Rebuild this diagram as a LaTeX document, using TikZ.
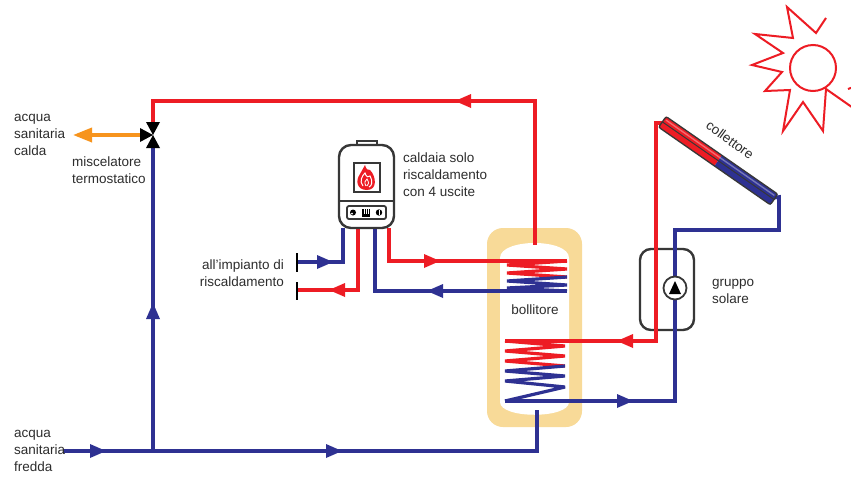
\documentclass[tikz,border=0pt]{standalone}
\usepackage{fontspec}
\setmainfont{Liberation Sans}
\usetikzlibrary{arrows.meta}

\definecolor{hot}{RGB}{237,28,36}
\definecolor{cold}{RGB}{46,49,146}
\definecolor{mixed}{RGB}{247,148,29}
\definecolor{insul}{RGB}{248,218,152}
\definecolor{casing}{RGB}{55,55,55}
\definecolor{txt}{RGB}{45,45,45}

\tikzset{
  pipe/.style={line width=3.6pt, line join=miter, line cap=butt},
  hotpipe/.style={pipe, draw=hot},
  coldpipe/.style={pipe, draw=cold},
  coil/.style={line width=3.2pt, line join=bevel},
  flowtip/.pic={\fill (0,0) -- (-16,-7) -- (-16,7) -- cycle;},
  lbl/.style={font=\fontsize{13.5}{17}\selectfont, text=txt, inner sep=0pt},
  shell/.style={draw=casing, line width=2.4pt, fill=white},
}

\begin{document}
\begin{tikzpicture}[x=1pt,y=-1pt]
\useasboundingbox (0,0) rectangle (851,477);
\fill[white] (0,0) rectangle (851,477);

% ---------- key points of the circuits ----------
\coordinate (mixTop)   at (153,122);
\coordinate (mixBot)   at (153,148);
\coordinate (mixLeft)  at (141,135);
\coordinate (hotOut)   at (73,135);
\coordinate (hotTurn)  at (535,101);
\coordinate (tankTop)  at (535,245);
\coordinate (coldIn)   at (63,451);
\coordinate (coldTee)  at (153,451);
\coordinate (coldTurn) at (537,451);
\coordinate (tankBot)  at (537,410);

\coordinate (bOut1) at (343,228); % to heating system (blue)
\coordinate (bOut2) at (358,228); % from heating system (red)
\coordinate (bOut3) at (375,228); % return from coil (blue)
\coordinate (bOut4) at (389,228); % flow to coil (red)
\coordinate (endUp)  at (297,262);
\coordinate (endLow) at (297,290);

\coordinate (colTop) at (664,123);
\coordinate (colBot) at (772,198);

% ---------- storage tank ----------
\node[fill=insul, rounded corners=16pt, minimum width=95pt, minimum height=199pt,
      inner sep=0pt] (tank) at (534.5,327.5) {};
\fill[white] (500,258) .. controls (500,238) and (569,238) .. (569,258)
   -- (569,402) .. controls (569,419) and (500,419) .. (500,402) -- cycle;

% ---------- solar pump group casing ----------
\node[draw=casing, line width=2.4pt, rounded corners=11pt, minimum width=54pt,
      minimum height=81pt, inner sep=0pt] (group) at (667,289.5) {};

% ---------- domestic water ----------
\draw[hotpipe] (mixTop) |- (hotTurn) -- (tankTop);
\draw[coldpipe] (coldIn) -- (coldTurn) -- (tankBot);
\draw[coldpipe] (coldTee) -- (mixBot);
\draw[mixed, line width=3.6pt, -{Triangle[length=19pt,width=14pt]}] (mixLeft) -- (hotOut);

% ---------- boiler circuit ----------
\draw[coldpipe] (endUp) -| (bOut1);
\draw[hotpipe] (bOut2) |- (endLow);
\draw[hotpipe] (bOut4) |- (567,261);
\draw[coil, hot] (567,261) -- (507,265) -- (567,269) -- (507,273) -- (567,277);
\draw[coil, cold] (567,277) -- (507,281) -- (567,285) -- (507,288) -- (567,291);
\draw[coldpipe] (567,291) -| (bOut3);
\draw[black, line width=2.4pt] (297,253) -- (297,272);
\draw[black, line width=2.4pt] (297,282) -- (297,300);

% ---------- solar circuit ----------
\draw[hotpipe] (505,341) -| (656,123) -- (colTop);
\draw[coil, hot] (505,341) -- (565,346) -- (505,351) -- (565,356) -- (505,361) -- (565,366);
\draw[coil, cold] (565,366) -- (505,371) -- (565,376) -- (505,381) -- (565,387) -- (505,401);
\draw[coldpipe] (505,401) -| (675,230) -| (779,197) -- (colBot);

% pump
\node[circle, draw=casing, fill=white, line width=1.8pt, minimum size=23pt,
      inner sep=0pt] (pump) at (675,288) {};
\fill[black] (669,294) -- (681,294) -- (675,281) -- cycle;

% ---------- collector ----------
\begin{scope}[shift={(colTop)}, rotate=-34.8]
  \fill[hot]  (-2,-6.5) rectangle (66,6.5);
  \fill[cold] (66,-6.5) rectangle (134,6.5);
  \draw[casing, line width=1.3pt, rounded corners=2pt] (-2,-6.5) rectangle (134,6.5);
  \draw[casing, line width=1pt] (-2,0) -- (134,0);
  \draw[white, opacity=0.35, line width=1.4pt] (0,-3.5) -- (132,-3.5);
\end{scope}

% ---------- boiler ----------
\draw[casing, line width=1.6pt, fill=white] (357,141) rectangle (377,146);
\node[shell, rounded corners=12pt, minimum width=55pt, minimum height=83pt,
      inner sep=0pt] (boiler) at (366.5,186.5) {};
\draw[casing, line width=2pt] (339,201) -- (394,201);
\draw[casing, line width=2pt, fill=white] (354,163) rectangle (380,192);
% flame
\fill[hot] (367,190) .. controls (357,190) and (355,181) .. (360,174)
  .. controls (362,171) and (363,168) .. (365,165)
  .. controls (366,169) and (368,171) .. (370,170)
  .. controls (376,176) and (378,190) .. (367,190) -- cycle;
\draw[white, line width=1pt] (363,186) .. controls (359,181) and (362,176) .. (365,173)
  .. controls (366,177) and (369,178) .. (370,176)
  .. controls (373,181) and (372,186) .. (369,187);
\draw[white, line width=0.8pt] (366,186) .. controls (364,183) and (365,180) .. (367,179)
  .. controls (369,182) and (369,185) .. (367,186);
% control panel
\draw[casing, line width=1.8pt, rounded corners=2pt] (347,206) rectangle (386,219);
\fill[black] (353,212.5) circle (3);
\fill[white] (352,213.5) circle (1);
\fill[black] (362,208.5) rectangle (370,216.5);
\draw[white, line width=0.8pt] (364,209) -- (364,214) (366,209) -- (366,214) (368,209) -- (368,214);
\fill[black] (379,212.5) circle (3.2);
\draw[white, line width=0.9pt] (379,210) -- (379,215);

% ---------- thermostatic mixer ----------
\fill[black] (146,122) -- (160,122) -- (153,135) -- cycle;
\fill[black] (146,148) -- (160,148) -- (153,135) -- cycle;
\fill[black] (140,128) -- (140,142) -- (153,135) -- cycle;

% ---------- flow direction marks ----------
\pic[color=hot, rotate=180] at (455,101) {flowtip};
\pic[color=cold, rotate=90] at (153,303) {flowtip};
\pic[color=cold] at (106,451) {flowtip};
\pic[color=cold] at (342,451) {flowtip};
\pic[color=hot] at (440,261) {flowtip};
\pic[color=cold, rotate=180] at (427,291) {flowtip};
\pic[color=cold] at (333,262) {flowtip};
\pic[color=hot, rotate=180] at (329,290) {flowtip};
\pic[color=hot, rotate=180] at (617,341) {flowtip};
\pic[color=cold] at (633,401) {flowtip};

% ---------- sun ----------
\draw[hot, line width=2pt, line join=miter] (826,18) -- (816,33) -- (787,7) -- (793,38)
  -- (755,34) -- (783,53) -- (752,65) -- (782,72) -- (765,91) -- (790,90)
  -- (783,131) -- (803,102) -- (823,131) -- (826,89) -- (856,110);
\draw[hot, line width=2pt] (848,89) -- (856,86);
\draw[hot, line width=2pt] (813,68) circle (23);

% ---------- labels ----------
\node[lbl, anchor=west, align=left] (lCalda) at (14,135) {acqua\\sanitaria\\calda};
\node[lbl, anchor=west, align=left] (lMix) at (72,170) {miscelatore\\termostatico};
\node[lbl, anchor=west, align=left] (lBoiler) at (403,175) {caldaia solo\\riscaldamento\\con 4 uscite};
\node[lbl, anchor=east, align=right] (lHeat) at (284,273) {all'impianto di\\riscaldamento};
\node[lbl] (lTank) at (535,310) {bollitore};
\node[lbl, anchor=west, align=left] (lGroup) at (712,291) {gruppo\\solare};
\node[lbl, anchor=west, align=left] (lFredda) at (14,451) {acqua\\sanitaria\\fredda};
\node[lbl, rotate=-36] (lCol) at (730,140) {collettore};
\end{tikzpicture}
\end{document}
